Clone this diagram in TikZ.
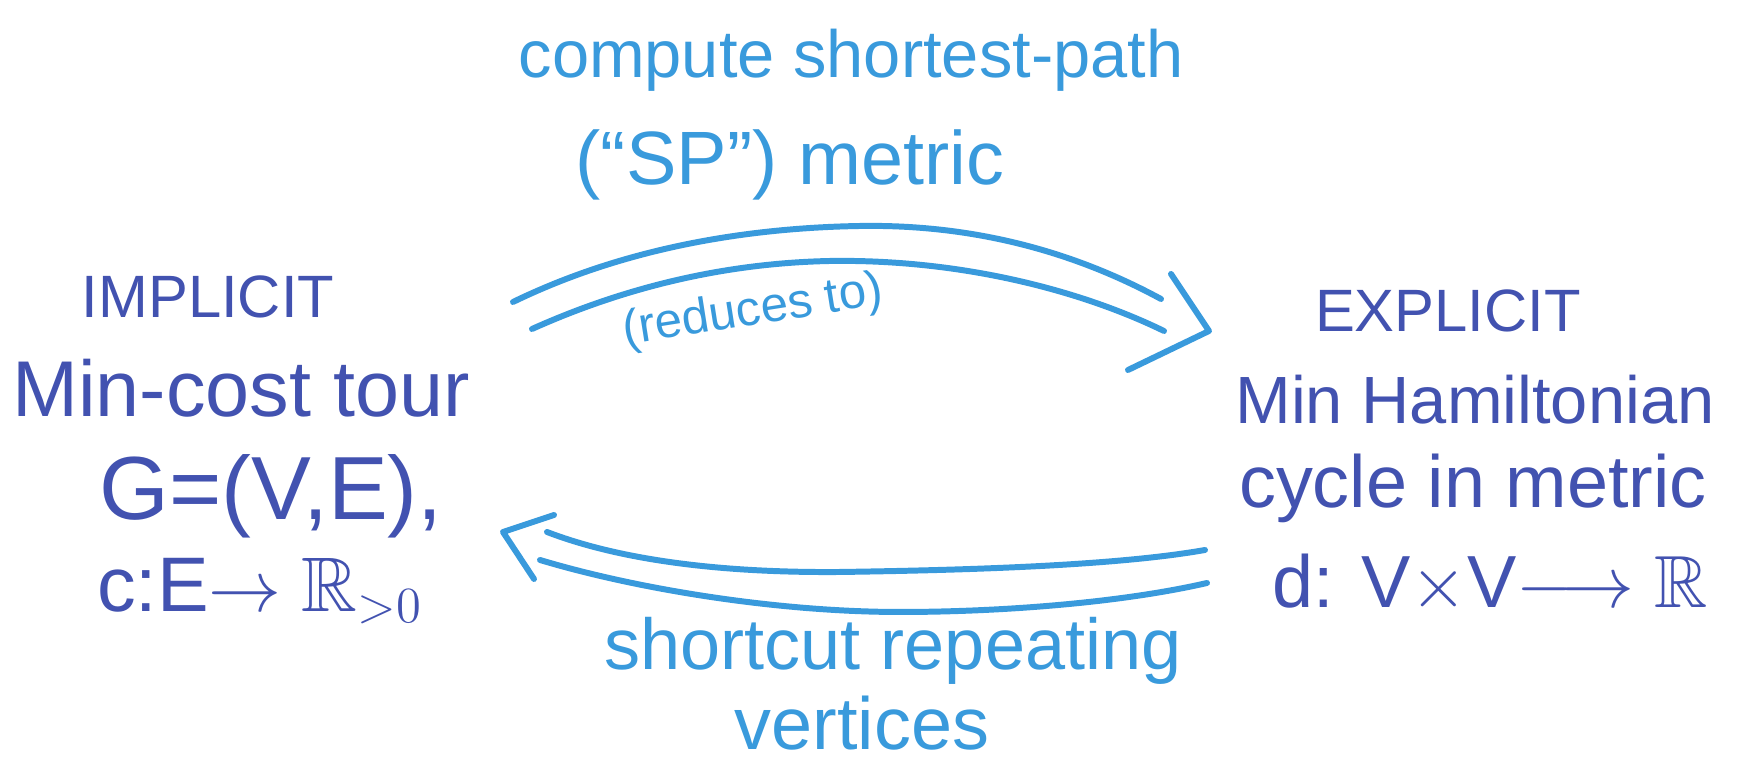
\documentclass[tikz,border=0pt]{standalone}
\usepackage{amssymb}
\usepackage{fontspec}
\setmainfont{Liberation Sans}
\definecolor{inkdark}{HTML}{4252B0}
\definecolor{inklight}{HTML}{399ADC}
\newcommand{\inksize}[1]{\fontsize{#1}{#1}\selectfont}
\begin{document}
\begin{tikzpicture}[x=0.01cm, y=-0.01cm,
        dark/.style={text=inkdark, anchor=base, inner sep=0pt},
        light/.style={text=inklight, anchor=base, inner sep=0pt},
        handline/.style={inklight, line width=1.7pt, line cap=round, line join=round}]
        \useasboundingbox (0,0) rectangle (1753,762);

        \node[dark, font=\inksize{17}] (implicit) at (208,318) {IMPLICIT};
        \node[dark, font=\inksize{22.5}] (mincost) at (241,417) {Min-cost tour};
        \node[dark, font=\inksize{25.5}] (graph) at (271,520) {G=(V,E),};
        \node[dark, font=\inksize{22}] (costfn) at (260,612) {c:E$\rightarrow\mathbb{R}_{>0}$};

        \node[dark, font=\inksize{17}] (explicit) at (1448,332) {EXPLICIT};
        \node[dark, font=\inksize{19}] (minham) at (1475,424) {Min Hamiltonian};
        \node[dark, font=\inksize{21}] (cycle) at (1473,508) {cycle in metric};
        \node[dark, font=\inksize{21}] (metricfn) at (1490,608) {d: V$\times$V$\longrightarrow\mathbb{R}$};

        \node[light, font=\inksize{19}] (compute) at (851,78) {compute shortest-path};
        \node[light, font=\inksize{21.5}] (spmetric) at (790,185) {(“SP”) metric};
        \node[light, font=\inksize{14}, anchor=center, rotate=9] (reduces) at (753,312) {(reduces to)};
        \node[light, font=\inksize{20.5}] (shortcut) at (893,670) {shortcut repeating};
        \node[light, font=\inksize{21}] (vertices) at (862,750) {vertices};

        \coordinate (fwd-top-a) at (513,302);
        \coordinate (fwd-top-b) at (1161,299);
        \coordinate (fwd-low-a) at (532,329);
        \coordinate (fwd-low-b) at (1164,331);
        \coordinate (fwd-tip) at (1209,331);
        \coordinate (bwd-top-a) at (1205,550);
        \coordinate (bwd-top-b) at (547,532);
        \coordinate (bwd-low-a) at (1207,583);
        \coordinate (bwd-low-b) at (540,560);
        \coordinate (bwd-tip) at (503,532);

        \draw[handline] (fwd-top-a) .. controls (620,250) and (740,228) .. (860,226) .. controls (980,224) and (1080,255) .. (fwd-top-b);
        \draw[handline] (fwd-low-a) .. controls (630,285) and (730,263) .. (830,261) .. controls (960,259) and (1080,290) .. (fwd-low-b);
        \draw[handline] (1171,274) -- (fwd-tip) -- (1128,370);

        \draw[handline] (bwd-top-a) .. controls (1120,565) and (980,570) .. (840,572) .. controls (720,573) and (620,560) .. (bwd-top-b);
        \draw[handline] (bwd-low-a) .. controls (1120,603) and (1000,612) .. (900,612) .. controls (780,612) and (640,590) .. (bwd-low-b);
        \draw[handline] (554,515) -- (bwd-tip) -- (534,579);
\end{tikzpicture}
\end{document}
